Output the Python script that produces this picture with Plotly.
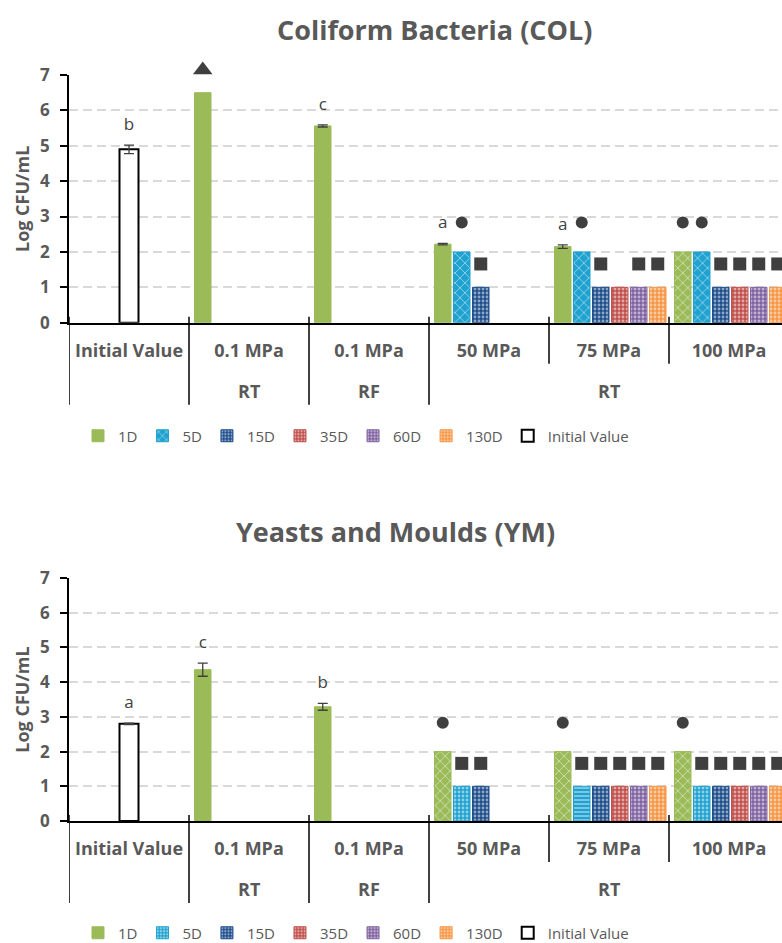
import plotly.graph_objects as go

# ---------------- data ----------------
groups = ["Initial Value", "0.1 MPa RT", "0.1 MPa RF", "50 MPa", "75 MPa", "100 MPa"]
pressure_labels = ["Initial Value", "0.1 MPa", "0.1 MPa", "50 MPa", "75 MPa", "100 MPa"]
temperature_of_group = ["", "RT", "RF", "RT", "RT", "RT"]
series_names = ["1D", "5D", "15D", "35D", "60D", "130D"]
series_colors = ["#9BBB59", "#1FA2D0", "#1F4E8C", "#C0504D", "#8064A2", "#F79646"]

# Coliform bacteria (COL)
col_initial = [4.90, None, None, None, None, None]
col_initial_err = [0.12, None, None, None, None, None]
col_initial_letters = ["b", "", "", "", "", ""]
col_1d = [None, 6.50, 5.56, 2.22, 2.15, 2.00]
col_1d_err = [None, None, 0.03, 0.02, 0.05, None]
col_1d_letters = ["", "", "c", "a", "a", ""]
col_5d = [None, None, None, 2.00, 2.00, 2.00]
col_15d = [None, None, None, 1.00, 1.00, 1.00]
col_35d = [None, None, None, None, 1.00, 1.00]
col_60d = [None, None, None, None, 1.00, 1.00]
col_130d = [None, None, None, None, 1.00, 1.00]
col_1d_sym = [None, "triangle-up", None, None, None, "circle"]
col_5d_sym = [None, None, None, "circle", "circle", "circle"]
col_15d_sym = [None, None, None, "square", "square", "square"]
col_35d_sym = [None, None, None, None, None, "square"]
col_60d_sym = [None, None, None, None, "square", "square"]
col_130d_sym = [None, None, None, None, "square", "square"]
col_1d_pat = ["", "", "", "", "", "x"]
col_5d_pat = ["x", "x", "x", "x", "x", "x"]

# Yeasts and moulds (YM)
ym_initial = [2.80, None, None, None, None, None]
ym_initial_err = [0.02, None, None, None, None, None]
ym_initial_letters = ["a", "", "", "", "", ""]
ym_1d = [None, 4.36, 3.29, 2.00, 2.00, 2.00]
ym_1d_err = [None, 0.19, 0.10, None, None, None]
ym_1d_letters = ["", "c", "b", "", "", ""]
ym_5d = [None, None, None, 1.00, 1.00, 1.00]
ym_15d = [None, None, None, 1.00, 1.00, 1.00]
ym_35d = [None, None, None, None, 1.00, 1.00]
ym_60d = [None, None, None, None, 1.00, 1.00]
ym_130d = [None, None, None, None, 1.00, 1.00]
ym_1d_sym = [None, None, None, "circle", "circle", "circle"]
ym_5d_sym = [None, None, None, "square", "square", "square"]
ym_15d_sym = [None, None, None, "square", "square", "square"]
ym_35d_sym = [None, None, None, None, "square", "square"]
ym_60d_sym = [None, None, None, None, "square", "square"]
ym_130d_sym = [None, None, None, None, "square", "square"]
ym_1d_pat = ["", "", "", "x", "x", "x"]
ym_5d_pat = [".", ".", ".", ".", "-", "."]

# ---------------- style / layout ----------------
W, H = 782, 943
ML, MR, MT, MB = 69, 0, 30, 122
PLOT_W = W - ML - MR
PLOT_H = H - MT - MB
PX_PER_GROUP = 120.0
GREY = "#595959"
DARK = "#3F3F3F"
FONT = "'Open Sans', sans-serif"

BAR_W = 16.5 / PX_PER_GROUP
PITCH = 19.0 / PX_PER_GROUP
START = -0.5 + 5.5 / PX_PER_GROUP
INIT_W = 19.0 / PX_PER_GROUP
SYM_OFFSET = {"circle": 0.83, "square": 0.66, "triangle-up": 0.64}
SYM_SIZE = {"circle": 12, "square": 13, "triangle-up": 17}
LETTER_OFFSET = 0.55
YMAX = 7
YMAX_OVER = 7.8  # invisible overlay axis so symbols above 7 stay visible


def py(p):  # pixel row -> paper y
    return (H - MB - p) / PLOT_H


def px(p):  # pixel column -> paper x
    return (p - ML) / PLOT_W


charts = [
    dict(title="Coliform Bacteria (COL)", title_x=434, title_y=29, top=75, axis=322.7,
         legend_y=436, xaxis="x", yaxis="y", yover="y3", legend="legend",
         initial=col_initial, initial_err=col_initial_err, initial_letters=col_initial_letters,
         series=[col_1d, col_5d, col_15d, col_35d, col_60d, col_130d],
         err1=col_1d_err, letters1=col_1d_letters,
         syms=[col_1d_sym, col_5d_sym, col_15d_sym, col_35d_sym, col_60d_sym, col_130d_sym],
         pats=[col_1d_pat, col_5d_pat, ["."] * 6, ["."] * 6, ["."] * 6, ["."] * 6]),
    dict(title="Yeasts and Moulds (YM)", title_x=395, title_y=531, top=578, axis=821,
         legend_y=933, xaxis="x2", yaxis="y2", yover="y4", legend="legend2",
         initial=ym_initial, initial_err=ym_initial_err, initial_letters=ym_initial_letters,
         series=[ym_1d, ym_5d, ym_15d, ym_35d, ym_60d, ym_130d],
         err1=ym_1d_err, letters1=ym_1d_letters,
         syms=[ym_1d_sym, ym_5d_sym, ym_15d_sym, ym_35d_sym, ym_60d_sym, ym_130d_sym],
         pats=[ym_1d_pat, ym_5d_pat, ["."] * 6, ["."] * 6, ["."] * 6, ["."] * 6]),
]

idx = list(range(len(groups)))
fig = go.Figure()
annotations = []
shapes = []

for c in charts:
    # series bars
    for s, (name, color, vals, pats) in enumerate(zip(series_names, series_colors, c["series"], c["pats"])):
        dotted = pats[-1] == "."
        fig.add_trace(go.Bar(
            x=idx, y=vals, name=name, xaxis=c["xaxis"], yaxis=c["yaxis"], legend=c["legend"],
            offset=START + s * PITCH, width=BAR_W,
            marker=dict(color=color, line=dict(color=color, width=1),
                        pattern=dict(shape=pats, fgcolor="white", fillmode="overlay",
                                     size=4 if dotted else 7,
                                     solidity=0.4 if dotted else 0.25)),
            hoverinfo="skip",
        ))
    # initial value bar
    fig.add_trace(go.Bar(
        x=idx, y=c["initial"], name="Initial Value", xaxis=c["xaxis"], yaxis=c["yaxis"], legend=c["legend"],
        offset=-INIT_W / 2, width=INIT_W,
        marker=dict(color="white", line=dict(color="black", width=2)),
        hoverinfo="skip",
    ))
    # error bars (only where a standard deviation is reported)
    ex, ey, ee = [], [], []
    for i in idx:
        if c["initial_err"][i] is not None:
            ex.append(i); ey.append(c["initial"][i]); ee.append(c["initial_err"][i])
        if c["err1"][i] is not None:
            ex.append(i + START + BAR_W / 2); ey.append(c["series"][0][i]); ee.append(c["err1"][i])
    fig.add_trace(go.Scatter(x=ex, y=ey, mode="markers", xaxis=c["xaxis"], yaxis=c["yaxis"],
                             marker=dict(size=2, opacity=0), showlegend=False, hoverinfo="skip",
                             error_y=dict(type="data", array=ee, visible=True, color=DARK,
                                          thickness=1.3, width=5)))
    # letters
    lx, ly, lt = [], [], []
    for i in idx:
        if c["initial_letters"][i]:
            lx.append(i)
            ly.append(c["initial"][i] + (c["initial_err"][i] or 0) + LETTER_OFFSET)
            lt.append(c["initial_letters"][i])
        if c["letters1"][i]:
            lx.append(i + START + BAR_W / 2)
            ly.append(c["series"][0][i] + (c["err1"][i] or 0) + LETTER_OFFSET)
            lt.append(c["letters1"][i])
    fig.add_trace(go.Scatter(x=lx, y=ly, text=lt, mode="text", xaxis=c["xaxis"], yaxis=c["yover"],
                             textfont=dict(family=FONT, size=17, color=DARK), showlegend=False,
                             hoverinfo="skip"))
    # symbols
    sx, sy, ss, sz = [], [], [], []
    for s, (vals, syms) in enumerate(zip(c["series"], c["syms"])):
        for i in idx:
            if syms[i]:
                sx.append(i + START + s * PITCH + BAR_W / 2)
                sy.append(vals[i] + SYM_OFFSET[syms[i]])
                ss.append(syms[i])
                sz.append(SYM_SIZE[syms[i]])
    fig.add_trace(go.Scatter(x=sx, y=sy, mode="markers", xaxis=c["xaxis"], yaxis=c["yover"],
                             marker=dict(symbol=ss, size=sz, color=DARK, opacity=1, line=dict(width=0)),
                             showlegend=False, cliponaxis=False, hoverinfo="skip"))
    # title
    annotations.append(dict(text=c["title"], x=px(c["title_x"]), y=py(c["title_y"]), xref="paper", yref="paper",
                            showarrow=False, xanchor="center", yanchor="middle",
                            font=dict(family=FONT, size=27, color=GREY, weight="bold")))
    # second row of category labels (temperature)
    outer = []
    for i, t in enumerate(temperature_of_group):
        if i == 0 or t != temperature_of_group[i - 1]:
            outer.append([i, i, t])
        else:
            outer[-1][1] = i
    for a, b, t in outer:
        if t:
            annotations.append(dict(text=t, x=(a + b) / 2, y=py(c["axis"] + 68), xref=c["xaxis"], yref="paper",
                                    showarrow=False, xanchor="center", yanchor="middle",
                                    font=dict(family=FONT, size=18, color=GREY, weight="bold")))
    # dividers
    starts = {a for a, b, t in outer}
    for i in idx:
        long_div = i in starts
        shapes.append(dict(type="line", xref=c["xaxis"], yref="paper", x0=i - 0.5, x1=i - 0.5,
                           y0=py(c["axis"] - 6), y1=py(c["axis"] + (82 if long_div else 41)),
                           line=dict(color="black", width=1.5)))
        if i == len(groups) - 1:
            shapes.append(dict(type="line", xref=c["xaxis"], yref="paper", x0=i + 0.5, x1=i + 0.5,
                               y0=py(c["axis"] - 6), y1=py(c["axis"] + 41),
                               line=dict(color="black", width=1.5)))

xrange = [-0.5, -0.5 + PLOT_W / PX_PER_GROUP]
axis_common_x = dict(range=xrange, tickmode="array", tickvals=idx, ticktext=pressure_labels,
                     showline=True, linecolor="black", linewidth=1.5, ticks="", showgrid=False,
                     zeroline=False, ticklabelstandoff=11,
                     tickfont=dict(family=FONT, size=18, color=GREY, weight="bold"))
axis_common_y = dict(range=[0, YMAX], dtick=1, showline=True, linecolor="black", linewidth=1.5,
                     ticks="outside", ticklen=7, tickcolor="black", tickwidth=1.5,
                     showgrid=True, gridcolor="#D9D9D9", gridwidth=1.5, griddash="9px,5px",
                     zeroline=False, ticklabelstandoff=7,
                     tickfont=dict(family=FONT, size=17, color=GREY, weight="bold"),
                     title=dict(text="Log CFU/mL", standoff=6,
                                font=dict(family=FONT, size=18, color=GREY, weight="bold")))
axis_over = dict(range=[0, YMAX_OVER], visible=False, showgrid=False, zeroline=False, fixedrange=True)

legend_common = dict(orientation="h", xanchor="left", yanchor="middle", x=px(78),
                     font=dict(family=FONT, size=15, color=GREY), itemwidth=30,
                     tracegroupgap=0, bgcolor="rgba(0,0,0,0)")

top, bot = charts


def over_domain(c):
    unit = (c["axis"] - c["top"]) / YMAX
    return [py(c["axis"]), py(c["axis"] - YMAX_OVER * unit)]


fig.update_layout(
    width=W, height=H, autosize=False,
    margin=dict(l=ML, r=MR, t=MT, b=MB, pad=0, autoexpand=False),
    paper_bgcolor="white", plot_bgcolor="rgba(0,0,0,0)",
    barmode="overlay",
    xaxis=dict(**axis_common_x, domain=[0, 1], anchor="y"),
    yaxis=dict(**axis_common_y, domain=[py(top["axis"]), py(top["top"])], anchor="x"),
    xaxis2=dict(**axis_common_x, domain=[0, 1], anchor="y2"),
    yaxis2=dict(**axis_common_y, domain=[py(bot["axis"]), py(bot["top"])], anchor="x2"),
    yaxis3=dict(**axis_over, domain=over_domain(top), anchor="x"),
    yaxis4=dict(**axis_over, domain=over_domain(bot), anchor="x2"),
    legend=dict(**legend_common, y=py(top["legend_y"])),
    legend2=dict(**legend_common, y=py(bot["legend_y"])),
    annotations=annotations,
    shapes=shapes,
)

fig.write_html("out.html")
